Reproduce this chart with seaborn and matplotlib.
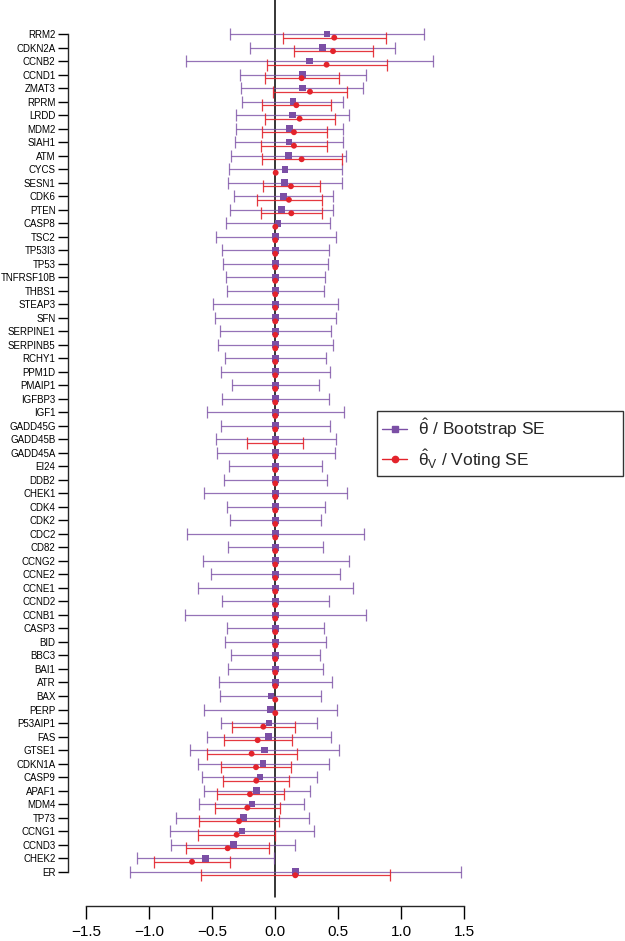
import numpy as np
import pandas as pd
import matplotlib
matplotlib.use("Agg")
import matplotlib.pyplot as plt
import seaborn as sns
from matplotlib.lines import Line2D

# --------------------------
# Data
# --------------------------
genes = ["RRM2", "CDKN2A", "CCNB2", "CCND1", "ZMAT3", "RPRM", "LRDD", "MDM2", "SIAH1", "ATM",
         "CYCS", "SESN1", "CDK6", "PTEN", "CASP8", "TSC2", "TP53I3", "TP53", "TNFRSF10B", "THBS1",
         "STEAP3", "SFN", "SERPINE1", "SERPINB5", "RCHY1", "PPM1D", "PMAIP1", "IGFBP3", "IGF1", "GADD45G",
         "GADD45B", "GADD45A", "EI24", "DDB2", "CHEK1", "CDK4", "CDK2", "CDC2", "CD82", "CCNG2",
         "CCNE2", "CCNE1", "CCND2", "CCNB1", "CASP3", "BID", "BBC3", "BAI1", "ATR", "BAX",
         "PERP", "P53AIP1", "FAS", "GTSE1", "CDKN1A", "CASP9", "APAF1", "MDM4", "TP73", "CCNG1",
         "CCND3", "CHEK2", "ER"]

# bootstrap estimate and interval
boot_est = [0.41, 0.373, 0.27, 0.217, 0.214, 0.14, 0.135, 0.111, 0.108, 0.106,
            0.077, 0.074, 0.066, 0.048, 0.021, 0, 0, 0, 0, 0,
            0, 0, 0, 0, 0, 0, 0, 0, 0, 0,
            0, 0, 0, 0, 0, 0, 0, 0, 0, 0,
            0, 0, 0, 0, 0, 0, 0, 0, 0, -0.034,
            -0.04, -0.05, -0.053, -0.087, -0.098, -0.122, -0.148, -0.185, -0.254, -0.265,
            -0.333, -0.553, 0.161]
boot_lo = [-0.357, -0.201, -0.712, -0.278, -0.275, -0.262, -0.312, -0.31, -0.32, -0.349,
           -0.37, -0.376, -0.325, -0.357, -0.392, -0.468, -0.421, -0.415, -0.389, -0.384,
           -0.492, -0.476, -0.442, -0.458, -0.402, -0.429, -0.341, -0.421, -0.545, -0.431,
           -0.471, -0.466, -0.368, -0.41, -0.566, -0.386, -0.36, -0.698, -0.376, -0.577,
           -0.508, -0.611, -0.421, -0.717, -0.381, -0.397, -0.352, -0.378, -0.444, -0.437,
           -0.563, -0.431, -0.542, -0.68, -0.616, -0.579, -0.563, -0.603, -0.786, -0.833,
           -0.828, -1.098, -1.156]
boot_hi = [1.177, 0.952, 1.251, 0.717, 0.698, 0.54, 0.587, 0.534, 0.54, 0.561,
           0.526, 0.532, 0.458, 0.455, 0.434, 0.479, 0.423, 0.415, 0.394, 0.389,
           0.495, 0.479, 0.442, 0.46, 0.405, 0.431, 0.344, 0.423, 0.548, 0.434,
           0.479, 0.471, 0.37, 0.413, 0.571, 0.394, 0.365, 0.704, 0.378, 0.582,
           0.513, 0.616, 0.426, 0.722, 0.384, 0.402, 0.357, 0.381, 0.447, 0.365,
           0.487, 0.333, 0.444, 0.508, 0.426, 0.333, 0.275, 0.23, 0.27, 0.307,
           0.156, -0.008, 1.474]

# voting estimate and interval (lo == hi where no bar is drawn)
vote_est = [0.468, 0.458, 0.407, 0.209, 0.275, 0.167, 0.193, 0.148, 0.148, 0.209,
            0.003, 0.124, 0.108, 0.127, 0, 0, 0, 0, 0, 0,
            0, 0, 0, 0, 0, 0, 0, 0, 0, 0,
            0, 0, 0, 0, 0, 0, 0, 0, 0, 0,
            0, 0, 0, 0, 0, 0, 0, 0, 0, 0,
            0, -0.095, -0.14, -0.188, -0.153, -0.151, -0.201, -0.222, -0.288, -0.307,
            -0.378, -0.661, 0.159]
vote_lo = [0.063, 0.146, -0.066, -0.085, -0.016, -0.108, -0.082, -0.108, -0.114, -0.103,
           0.003, -0.098, -0.148, -0.116, 0, 0, 0, 0, 0, 0,
           0, 0, 0, 0, 0, 0, 0, 0, 0, 0,
           -0.222, 0, 0, 0, 0, 0, 0, 0, 0, 0,
           0, 0, 0, 0, 0, 0, 0, 0, 0, 0,
           0, -0.341, -0.407, -0.542, -0.429, -0.413, -0.463, -0.481, -0.606, -0.614,
           -0.709, -0.963, -0.59]
vote_hi = [0.876, 0.772, 0.884, 0.508, 0.571, 0.444, 0.476, 0.407, 0.413, 0.529,
           0.003, 0.354, 0.368, 0.373, 0, 0, 0, 0, 0, 0,
           0, 0, 0, 0, 0, 0, 0, 0, 0, 0,
           0.222, 0, 0, 0, 0, 0, 0, 0, 0, 0,
           0, 0, 0, 0, 0, 0, 0, 0, 0, 0,
           0, 0.153, 0.132, 0.169, 0.124, 0.108, 0.066, 0.04, 0.029, 0.0,
           -0.05, -0.362, 0.907]

df = pd.DataFrame({"gene": genes, "row": np.arange(len(genes)),
                   "boot": boot_est, "boot_lo": boot_lo, "boot_hi": boot_hi,
                   "vote": vote_est, "vote_lo": vote_lo, "vote_hi": vote_hi})
df["vote_row"] = df["row"] + 0.27

purple = "#7B4FA5"
red = "#E3232B"

# --------------------------
# Plot
# --------------------------
sns.set_style("ticks")
plt.rcParams["font.family"] = ["Liberation Sans", "DejaVu Sans"]
plt.rcParams["mathtext.fontset"] = "custom"
plt.rcParams["mathtext.rm"] = "Liberation Sans"
plt.rcParams["mathtext.it"] = "Liberation Sans"

fig = plt.figure(figsize=(6.25, 9.41), dpi=100)
W, H = 625, 941
ax = fig.add_axes([68 / W, 1 - 906 / H, (625 - 68) / W, 906 / H])

x0, xs = 275.3, 126.0
ax.set_xlim((68 - x0) / xs, (625 - x0) / xs)
y0, ys = 34.0, 13.51
ax.set_ylim((906 - y0) / ys, (0 - y0) / ys)

ax.axvline(0, color="black", lw=1.1, ymin=0.01, ymax=1, zorder=2)

# bootstrap intervals
b_err = [df["boot"] - df["boot_lo"], df["boot_hi"] - df["boot"]]
ax.errorbar(df["boot"], df["row"], xerr=b_err, fmt="none", ecolor=purple,
            elinewidth=0.9, capsize=4.5, capthick=0.9, alpha=0.8, zorder=3)

# voting intervals (only where a bar exists)
vb = df[df["vote_hi"] > df["vote_lo"]]
v_err = [vb["vote"] - vb["vote_lo"], vb["vote_hi"] - vb["vote"]]
ax.errorbar(vb["vote"], vb["vote_row"], xerr=v_err, fmt="none", ecolor=red,
            elinewidth=0.9, capsize=4.5, capthick=0.9, alpha=0.9, zorder=3)

sns.scatterplot(data=df, x="boot", y="row", marker="s", s=24, color=purple,
                edgecolor="none", ax=ax, zorder=4)
sns.scatterplot(data=df, x="vote", y="vote_row", marker="o", s=18, color=red,
                edgecolor="none", ax=ax, zorder=5)

ax.set_yticks(df["row"])
ax.set_yticklabels(df["gene"], fontsize=7)
ax.set_xticks([-1.5, -1.0, -0.5, 0.0, 0.5, 1.0, 1.5])
ax.set_xticklabels(["\u22121.5", "\u22121.0", "\u22120.5", "0.0", "0.5", "1.0", "1.5"], fontsize=11)
ax.set_xlabel("")
ax.set_ylabel("")

for s in ["top", "right"]:
    ax.spines[s].set_visible(False)
ax.spines["left"].set_bounds(0, len(genes) - 1)
ax.spines["bottom"].set_bounds(-1.5, 1.5)
ax.spines["left"].set_linewidth(1)
ax.spines["bottom"].set_linewidth(1)
ax.tick_params(axis="y", length=7, width=1, pad=2, colors="black")
ax.tick_params(axis="x", length=9, width=1, pad=5, colors="black")

handles = [
    Line2D([], [], color=purple, marker="s", markersize=5, lw=1),
    Line2D([], [], color=red, marker="o", markersize=4.5, lw=1),
]
labels = [r"$\hat{\theta}$ / Bootstrap SE", r"$\hat{\theta}_\mathrm{V}$ / Voting SE"]
leg = fig.legend(handles, labels, loc="upper left",
                 bbox_to_anchor=(377 / W, 1 - 412 / H, 246 / W, 0.001), mode="expand",
                 borderaxespad=0,
                 fontsize=12.5, frameon=True, fancybox=False, edgecolor="black",
                 handlelength=1.45, borderpad=0.3, labelspacing=0.4, handletextpad=0.6)
leg.get_frame().set_linewidth(1)

fig.savefig("out.png", dpi=100)
